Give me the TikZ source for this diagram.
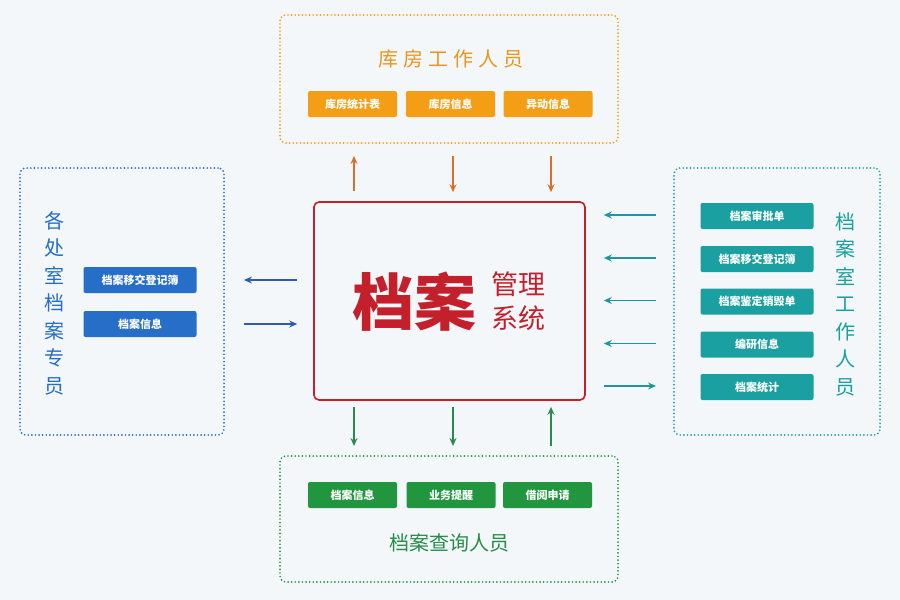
\documentclass[tikz,border=0pt]{standalone}
\usepackage{fontspec}
\setmainfont{Noto Sans CJK SC}
\newfontfamily\cjkwide[LetterSpace=25]{Noto Sans CJK SC}
\usetikzlibrary{calc,arrows.meta}

\definecolor{bgpaper}{RGB}{244,247,250}
\definecolor{kforange}{RGB}{244,158,22}
\definecolor{kftext}{RGB}{232,150,30}
\definecolor{kfarrow}{RGB}{214,112,44}
\definecolor{zcblue}{RGB}{38,110,200}
\definecolor{zcarrow}{RGB}{44,92,170}
\definecolor{wsteal}{RGB}{26,160,160}
\definecolor{wsarrow}{RGB}{30,150,160}
\definecolor{cxgreen}{RGB}{34,150,62}
\definecolor{cxtext}{RGB}{40,140,72}
\definecolor{cxarrow}{RGB}{40,140,82}
\definecolor{sysred}{RGB}{196,32,44}

\begin{document}
\begin{tikzpicture}[x=1pt,y=-1pt,
    groupbox/.style={line width=1.9pt,line cap=round,dash pattern=on 0pt off 3.6pt,rounded corners=6pt,inner sep=0},
    tagbox/.style={rounded corners=2pt,inner sep=0,text=white,font=\fontsize{11}{11}\selectfont\bfseries},
    flow/.style={line width=1.4pt,-{Stealth[length=8pt,width=7pt]}}]
    % canvas
    \fill[bgpaper] (0,0) rectangle (900,600);
    \useasboundingbox (0,0) rectangle (900,600);

    % sizes of the small tags
    \pgfmathsetmacro{\tagW}{89}
    \pgfmathsetmacro{\tagH}{26}
    \pgfmathsetmacro{\sideW}{113}

    % central system
    \node[draw=sysred,line width=1.6pt,rounded corners=5pt,minimum width=271pt,minimum height=198pt,inner sep=0] (sys) at (449.5,301) {};
    \node[text=sysred,font=\fontsize{62}{62}\selectfont\bfseries,inner sep=0] (sysbig) at (414.5,302) {档案};
    \node[text=sysred,font=\fontsize{27}{27}\selectfont,inner sep=0] (sysup) at (518,284) {管理};
    \node[text=sysred,font=\fontsize{27}{27}\selectfont,inner sep=0] (sysdown) at (518,318.5) {系统};

    % storeroom staff (top)
    \node[groupbox,draw=kforange,minimum width=338pt,minimum height=128pt] (kf) at (449,79) {};
    \node[text=kftext,font=\cjkwide\fontsize{20}{20}\selectfont] (kftitle) at (451,59) {库房工作人员};
    \node[tagbox,fill=kforange,minimum width=\tagW pt,minimum height=\tagH pt] (kf1) at (352.5,104) {库房统计表};
    \node[tagbox,fill=kforange,minimum width=\tagW pt,minimum height=\tagH pt] (kf2) at (450.5,104) {库房信息};
    \node[tagbox,fill=kforange,minimum width=\tagW pt,minimum height=\tagH pt] (kf3) at (548,104) {异动信息};

    % department archivists (left)
    \node[groupbox,draw=zcblue,minimum width=204pt,minimum height=267pt] (zc) at (122,301.5) {};
    \node[text=zcblue,font=\fontsize{20}{27.5}\selectfont,align=center,inner sep=0] (zctitle) at (54,303) {各\\处\\室\\档\\案\\专\\员};
    \node[tagbox,fill=zcblue,minimum width=\sideW pt,minimum height=\tagH pt] (zc1) at (140,280) {档案移交登记簿};
    \node[tagbox,fill=zcblue,minimum width=\sideW pt,minimum height=\tagH pt] (zc2) at (140,324) {档案信息};

    % archive office staff (right)
    \node[groupbox,draw=wsteal,minimum width=206pt,minimum height=267pt] (ws) at (777,301.5) {};
    \node[text=wsteal,font=\fontsize{20}{27.5}\selectfont,align=center,inner sep=0] (wstitle) at (845,304) {档\\案\\室\\工\\作\\人\\员};
    \node[tagbox,fill=wsteal,minimum width=\sideW pt,minimum height=\tagH pt] (ws1) at (757,216) {档案审批单};
    \node[tagbox,fill=wsteal,minimum width=\sideW pt,minimum height=\tagH pt] (ws2) at (757,259) {档案移交登记簿};
    \node[tagbox,fill=wsteal,minimum width=\sideW pt,minimum height=\tagH pt] (ws3) at (757,301.5) {档案鉴定销毁单};
    \node[tagbox,fill=wsteal,minimum width=\sideW pt,minimum height=\tagH pt] (ws4) at (757,344.5) {编研信息};
    \node[tagbox,fill=wsteal,minimum width=\sideW pt,minimum height=\tagH pt] (ws5) at (757,387) {档案统计};

    % archive users (bottom)
    \node[groupbox,draw=cxgreen,minimum width=338pt,minimum height=126pt] (cx) at (449,519) {};
    \node[text=cxtext,font=\fontsize{20}{20}\selectfont] (cxtitle) at (449,543) {档案查询人员};
    \node[tagbox,fill=cxgreen,minimum width=\tagW pt,minimum height=\tagH pt] (cx1) at (352.5,495) {档案信息};
    \node[tagbox,fill=cxgreen,minimum width=\tagW pt,minimum height=\tagH pt] (cx2) at (451,495) {业务提醒};
    \node[tagbox,fill=cxgreen,minimum width=\tagW pt,minimum height=\tagH pt] (cx3) at (547.5,495) {借阅申请};

    % arrows top
    \draw[flow,kfarrow,shorten <=10pt,shorten >=12pt] ($(sys.north -| kf1)+(1.5,0)$) -- ($(kf.south -| kf1)+(1.5,0)$);
    \draw[flow,kfarrow,shorten <=12pt,shorten >=9pt] ($(kf.south -| kf2)+(2.5,0)$) -- ($(sys.north -| kf2)+(2.5,0)$);
    \draw[flow,kfarrow,shorten <=12pt,shorten >=9pt] ($(kf.south -| kf3)+(3,0)$) -- ($(sys.north -| kf3)+(3,0)$);

    % arrows left
    \draw[flow,zcarrow,shorten <=16pt,shorten >=19pt] (sys.west |- zc1) -- (zc.east |- zc1);
    \draw[flow,zcarrow,shorten <=19pt,shorten >=16pt] (zc.east |- zc2) -- (sys.west |- zc2);

    % arrows right
    \foreach \i in {1,...,4}
      \draw[flow,wsarrow,shorten <=17pt,shorten >=18pt] ($(ws.west |- ws\i)+(0,-1)$) -- ($(sys.east |- ws\i)+(0,-1)$);
    \draw[flow,wsarrow,shorten <=18pt,shorten >=17pt] ($(sys.east |- ws5)+(0,-1)$) -- ($(ws.west |- ws5)+(0,-1)$);

    % arrows bottom
    \draw[flow,cxarrow,shorten <=6pt,shorten >=9pt] ($(sys.south -| cx1)+(1.5,0)$) -- ($(cx.north -| cx1)+(1.5,0)$);
    \draw[flow,cxarrow,shorten <=6pt,shorten >=9pt] ($(sys.south -| cx2)+(2,0)$) -- ($(cx.north -| cx2)+(2,0)$);
    \draw[flow,cxarrow,shorten <=9pt,shorten >=6pt] ($(cx.north -| cx3)+(3.5,0)$) -- ($(sys.south -| cx3)+(3.5,0)$);
\end{tikzpicture}
\end{document}
